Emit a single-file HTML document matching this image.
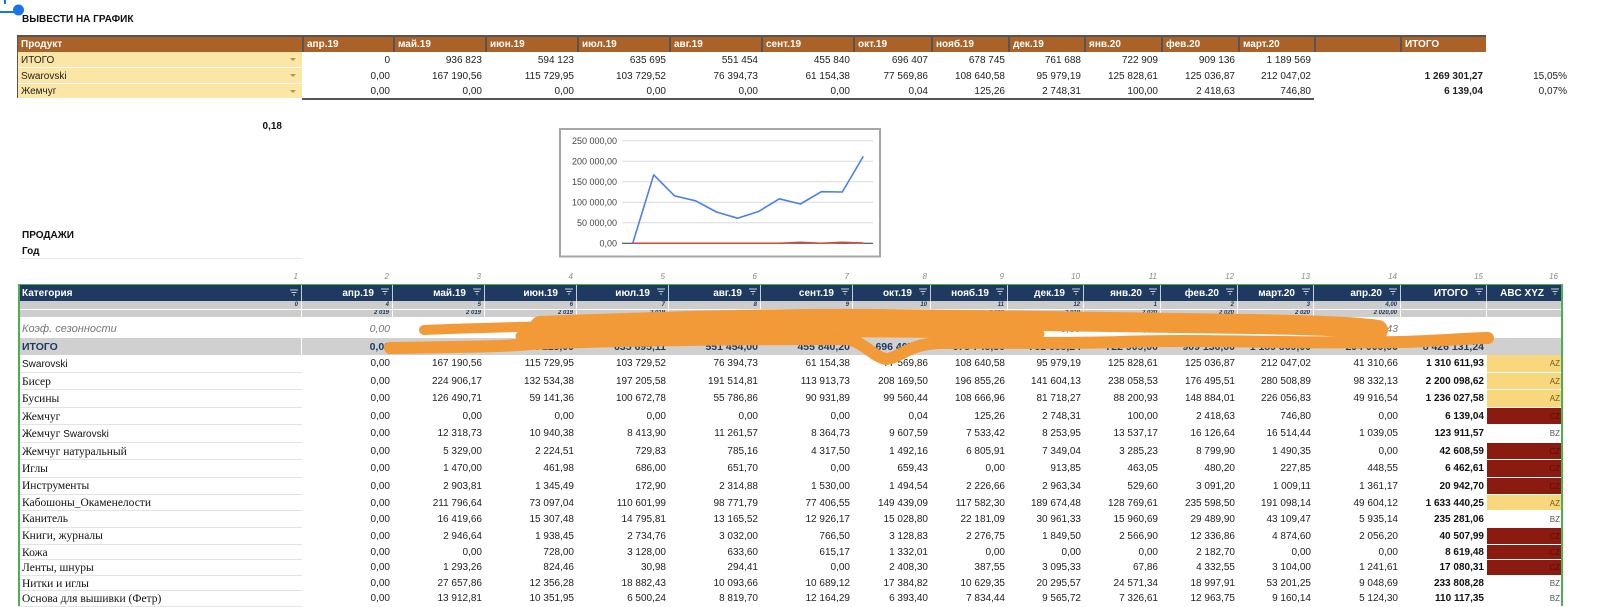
<!DOCTYPE html>
<html><head><meta charset="utf-8">
<style>
*{margin:0;padding:0}
body{width:1600px;height:605px;position:relative;overflow:hidden;background:#fff;font-family:"Liberation Sans",Arial,sans-serif;color:#222;}
.abs{position:absolute;white-space:nowrap}
.tr,.br{position:absolute;display:flex}
.tr{left:18px}
.br{left:19px}
.tr>div,.br>div{flex:none;box-sizing:border-box;overflow:hidden;white-space:nowrap;text-align:right;padding-right:3px;height:100%}
.tr>div:nth-child(1){width:284px}
.br>div:nth-child(1){width:283px}
.tr>div:nth-child(1),.br>div:nth-child(1){text-align:left;padding-left:3px}
.tr>div:nth-child(2),.br>div:nth-child(2){width:91px}
.tr>div:nth-child(3),.br>div:nth-child(3),.tr>div:nth-child(4),.br>div:nth-child(4),.tr>div:nth-child(5),.br>div:nth-child(5),.tr>div:nth-child(6),.br>div:nth-child(6),.tr>div:nth-child(7),.br>div:nth-child(7){width:92px}
.tr>div:nth-child(8),.br>div:nth-child(8){width:78px}
.tr>div:nth-child(9),.br>div:nth-child(9){width:77px}
.tr>div:nth-child(10),.br>div:nth-child(10){width:76px}
.tr>div:nth-child(11),.br>div:nth-child(11){width:77px}
.tr>div:nth-child(12),.br>div:nth-child(12){width:77px}
.tr>div:nth-child(13),.br>div:nth-child(13){width:76px}
.tr>div:nth-child(14){width:86px}
.tr>div:nth-child(15){width:86px}
.tr>div:nth-child(16){width:86px}
.br>div:nth-child(14){width:87px}
.br>div:nth-child(15){width:86px}
.br>div:nth-child(16){width:75px}

/* top table */
.th>div{background:#AA6229;color:#fff;font-weight:bold;font-size:10px;text-align:left;padding-left:3px;border-left:2px solid #555}
.th>div:nth-child(1){border-left:none}
.td>div{font-size:10px}
.td>div:nth-child(1){background:#FBE6A6;position:relative;border-bottom:1px solid #fff}
.td>div:nth-child(15){font-weight:bold}
.td>div:nth-child(16){padding-right:5px}
.arr{position:absolute;right:6px;top:6px;width:0;height:0;border-left:3px solid transparent;border-right:3px solid transparent;border-top:3px solid #b8924a}

/* bottom table */
.bn>div{font-size:8px;font-style:italic;color:#888;padding-right:4px}
.bh>div{background:#1E3A61;color:#fff;font-weight:bold;font-size:10px;border-right:1px solid #c5ccd6}
.bh>div:nth-child(1){display:flex;justify-content:space-between;align-items:center;padding-right:3px;padding-top:1px}
.bh svg{vertical-align:middle;margin-left:7px;margin-top:-2px}
.bs>div{background:#CDCDCD;color:#1E3A61;font-size:6px;font-style:italic;font-weight:bold;border-right:1px solid #fff}
.bs2>div{border-top:1px solid #fff}
.bk>div{font-style:italic;color:#777;font-size:10.5px;padding-top:3px}
.bk>div:nth-child(1){font-size:11px}
.bi>div{background:#D0D0D0;color:#1E3A61;font-weight:bold;font-size:10.5px}
.bi>div:nth-child(1){border-right:1px solid #fff}
.bd>div{font-size:10px}
.bd>div:nth-child(1){font-family:"Liberation Serif",serif;font-size:11.5px;color:#111;border-bottom:1px solid #e3e3e3}
.bd>div:nth-child(15){font-weight:bold;color:#111}
.bd>div:nth-child(16){font-size:8px;border-bottom:1px solid #fff;padding-right:2px}
.s{font-family:"Liberation Sans",Arial,sans-serif;font-size:10px}
.az{background:#F9D77C;color:#6b5a2a}
.cz{background:#8B1A11;color:#5a0e09}
.bz{color:#555}
</style></head>
<body>

<!-- selection handle -->
<svg class="abs" style="left:0;top:0" width="30" height="20">
<line x1="0" y1="12" x2="15" y2="12" stroke="#1A73E8" stroke-width="2"/>
<line x1="5" y1="0" x2="5" y2="4" stroke="#1A73E8" stroke-width="2"/>
<circle cx="18.5" cy="10" r="5.5" fill="#1A73E8"/>
</svg>

<div class="abs" style="left:22px;top:14px;font-size:10px;font-weight:bold;line-height:12px;color:#111">ВЫВЕСТИ НА ГРАФИК</div>

<!-- top table -->
<div class="abs" style="left:17px;top:35px;width:1469px;height:2px;background:#555"></div>
<div class="abs" style="left:17px;top:35px;width:2px;height:63px;background:#555"></div>
<div class="tr th" style="top:36.5px;height:15.5px;line-height:16px">
<div>Продукт</div><div>апр.19</div><div>май.19</div><div>июн.19</div><div>июл.19</div><div>авг.19</div><div>сент.19</div><div>окт.19</div><div>нояб.19</div><div>дек.19</div><div>янв.20</div><div>фев.20</div><div>март.20</div><div></div><div>ИТОГО</div>
</div>
<div class="tr td" style="top:52px;height:16px;line-height:18px">
<div>ИТОГО<span class="arr"></span></div><div>0</div><div>936 823</div><div>594 123</div><div>635 695</div><div>551 454</div><div>455 840</div><div>696 407</div><div>678 745</div><div>761 688</div><div>722 909</div><div>909 136</div><div>1 189 569</div><div></div><div></div><div></div>
</div>
<div class="tr td" style="top:68px;height:15.5px;line-height:17.5px">
<div>Swarovski<span class="arr"></span></div><div>0,00</div><div>167 190,56</div><div>115 729,95</div><div>103 729,52</div><div>76 394,73</div><div>61 154,38</div><div>77 569,86</div><div>108 640,58</div><div>95 979,19</div><div>125 828,61</div><div>125 036,87</div><div>212 047,02</div><div></div><div>1 269 301,27</div><div>15,05%</div>
</div>
<div class="tr td" style="top:83.5px;height:14.5px;line-height:16px">
<div style="border-bottom:none">Жемчуг<span class="arr"></span></div><div>0,00</div><div>0,00</div><div>0,00</div><div>0,00</div><div>0,00</div><div>0,00</div><div>0,04</div><div>125,26</div><div>2 748,31</div><div>100,00</div><div>2 418,63</div><div>746,80</div><div></div><div>6 139,04</div><div>0,07%</div>
</div>
<div class="abs" style="left:302px;top:97.5px;width:1012px;height:2px;background:#555"></div>

<div class="abs" style="left:182px;top:121px;width:100px;text-align:right;font-size:10px;font-weight:bold;line-height:12px;color:#111">0,18</div>

<!-- chart -->
<svg class="abs" style="left:0;top:0" width="1600" height="270">
<rect x="560" y="129" width="320" height="127.5" fill="#fff" stroke="#a6a6a6" stroke-width="2"/>
<g stroke="#dcdcdc" stroke-width="1">
<line x1="622" y1="140.7" x2="873" y2="140.7"/>
<line x1="622" y1="161.3" x2="873" y2="161.3"/>
<line x1="622" y1="181.7" x2="873" y2="181.7"/>
<line x1="622" y1="202.3" x2="873" y2="202.3"/>
<line x1="622" y1="222.7" x2="873" y2="222.7"/>
</g>
<line x1="622" y1="243.3" x2="873" y2="243.3" stroke="#333" stroke-width="1"/>
<g font-family="Liberation Sans, Arial, sans-serif" font-size="9" fill="#444" text-anchor="end">
<text x="617" y="144">250 000,00</text>
<text x="617" y="164.5">200 000,00</text>
<text x="617" y="185">150 000,00</text>
<text x="617" y="205.5">100 000,00</text>
<text x="617" y="226">50 000,00</text>
<text x="617" y="246.5">0,00</text>
</g>
<polyline fill="none" stroke="#DB4437" stroke-width="1.5" points="632.7,243.3 653.7,243.3 674.6,243.3 695.6,243.3 716.5,243.3 737.5,243.3 758.5,243.3 779.4,243.2 800.4,242.2 821.3,243.3 842.3,242.3 863.3,243"/>
<polyline fill="none" stroke="#4A80EC" stroke-width="1.6" stroke-linejoin="round" points="632.7,243.3 653.7,174.8 674.6,195.9 695.6,200.8 716.5,212 737.5,218.2 758.5,211.5 779.4,198.8 800.4,204 821.3,191.7 842.3,192 863.3,156.4"/>
</svg>

<div class="abs" style="left:22px;top:230px;font-size:10px;font-weight:bold;line-height:12px;color:#111">ПРОДАЖИ</div>
<div class="abs" style="left:22px;top:246px;font-size:10px;font-weight:bold;line-height:12px;color:#111">Год</div>
<div class="abs" style="left:20px;top:258px;width:282px;height:1px;background:#e6e6e6"></div>

<!-- bottom table -->
<div class="br bn" style="top:271px;height:12px;line-height:12px">
<div style="text-align:right;padding-right:4px">1</div><div>2</div><div>3</div><div>4</div><div>5</div><div>6</div><div>7</div><div>8</div><div>9</div><div>10</div><div>11</div><div>12</div><div>13</div><div>14</div><div>15</div><div>16</div>
</div>

<div class="br bh" style="top:284.5px;height:16.5px;line-height:17px">
<div><span>Категория</span><svg width="8" height="7"><path d="M0 1h8M1.5 3.5h5M3 6h2" stroke="#c8d0dc" stroke-width="1"/></svg></div>
<div>апр.19<svg width="8" height="7"><path d="M0 1h8M1.5 3.5h5M3 6h2" stroke="#c8d0dc" stroke-width="1"/></svg></div>
<div>май.19<svg width="8" height="7"><path d="M0 1h8M1.5 3.5h5M3 6h2" stroke="#c8d0dc" stroke-width="1"/></svg></div>
<div>июн.19<svg width="8" height="7"><path d="M0 1h8M1.5 3.5h5M3 6h2" stroke="#c8d0dc" stroke-width="1"/></svg></div>
<div>июл.19<svg width="8" height="7"><path d="M0 1h8M1.5 3.5h5M3 6h2" stroke="#c8d0dc" stroke-width="1"/></svg></div>
<div>авг.19<svg width="8" height="7"><path d="M0 1h8M1.5 3.5h5M3 6h2" stroke="#c8d0dc" stroke-width="1"/></svg></div>
<div>сент.19<svg width="8" height="7"><path d="M0 1h8M1.5 3.5h5M3 6h2" stroke="#c8d0dc" stroke-width="1"/></svg></div>
<div>окт.19<svg width="8" height="7"><path d="M0 1h8M1.5 3.5h5M3 6h2" stroke="#c8d0dc" stroke-width="1"/></svg></div>
<div>нояб.19<svg width="8" height="7"><path d="M0 1h8M1.5 3.5h5M3 6h2" stroke="#c8d0dc" stroke-width="1"/></svg></div>
<div>дек.19<svg width="8" height="7"><path d="M0 1h8M1.5 3.5h5M3 6h2" stroke="#c8d0dc" stroke-width="1"/></svg></div>
<div>янв.20<svg width="8" height="7"><path d="M0 1h8M1.5 3.5h5M3 6h2" stroke="#c8d0dc" stroke-width="1"/></svg></div>
<div>фев.20<svg width="8" height="7"><path d="M0 1h8M1.5 3.5h5M3 6h2" stroke="#c8d0dc" stroke-width="1"/></svg></div>
<div>март.20<svg width="8" height="7"><path d="M0 1h8M1.5 3.5h5M3 6h2" stroke="#c8d0dc" stroke-width="1"/></svg></div>
<div>апр.20<svg width="8" height="7"><path d="M0 1h8M1.5 3.5h5M3 6h2" stroke="#c8d0dc" stroke-width="1"/></svg></div>
<div>ИТОГО<svg width="8" height="7"><path d="M0 1h8M1.5 3.5h5M3 6h2" stroke="#c8d0dc" stroke-width="1"/></svg></div>
<div style="border-right:none">ABC XYZ<svg width="8" height="7"><path d="M0 1h8M1.5 3.5h5M3 6h2" stroke="#c8d0dc" stroke-width="1"/></svg></div>
</div>

<div class="br bs" style="top:301px;height:8px;line-height:8px">
<div style="text-align:right;padding-right:3px">0</div><div>4</div><div>5</div><div>6</div><div>7</div><div>8</div><div>9</div><div>10</div><div>11</div><div>12</div><div>1</div><div>2</div><div>3</div><div>4,00</div><div></div><div></div>
</div>
<div class="br bs bs2" style="top:309px;height:8px;line-height:7px">
<div></div><div>2 019</div><div>2 019</div><div>2 019</div><div>2 019</div><div>2 019</div><div>2 019</div><div>2 019</div><div>2 019</div><div>2 019</div><div>2 020</div><div>2 020</div><div>2 020</div><div>2 020,00</div><div></div><div></div>
</div>

<div class="br bk" style="top:317px;height:21px;line-height:19px">
<div>Коэф. сезонности</div><div>0,00</div><div>1,10</div><div>0,05</div><div>0,72</div><div>0,63</div><div>0,53</div><div>0,81</div><div>0,79</div><div>0,89</div><div>1,00</div><div>1,06</div><div>1,38</div><div>0,43</div><div></div><div></div>
</div>
<div class="br bi" style="top:338px;height:17px;line-height:18px">
<div>ИТОГО</div><div>0,00</div><div>936 823,21</div><div>594 123,00</div><div>635 695,11</div><div>551 454,00</div><div>455 840,20</div><div>696 407,10</div><div>678 745,30</div><div>761 688,24</div><div>722 909,00</div><div>909 136,00</div><div>1 189 569,00</div><div>294 000,00</div><div>8 426 131,24</div><div></div>
</div>

<div class="br bd" style="top:355px;height:17.5px;line-height:18px">
<div><span class="s">Swarovski</span></div><div>0,00</div><div>167 190,56</div><div>115 729,95</div><div>103 729,52</div><div>76 394,73</div><div>61 154,38</div><div>77 569,86</div><div>108 640,58</div><div>95 979,19</div><div>125 828,61</div><div>125 036,87</div><div>212 047,02</div><div>41 310,66</div><div>1 310 611,93</div><div class="az">AZ</div>
</div>
<div class="br bd" style="top:372.5px;height:17.5px;line-height:18px">
<div>Бисер</div><div>0,00</div><div>224 906,17</div><div>132 534,38</div><div>197 205,58</div><div>191 514,81</div><div>113 913,73</div><div>208 169,50</div><div>196 855,26</div><div>141 604,13</div><div>238 058,53</div><div>176 495,51</div><div>280 508,89</div><div>98 332,13</div><div>2 200 098,62</div><div class="az">AZ</div>
</div>
<div class="br bd" style="top:390px;height:17.5px;line-height:18px">
<div>Бусины</div><div>0,00</div><div>126 490,71</div><div>59 141,36</div><div>100 672,78</div><div>55 786,86</div><div>90 931,89</div><div>99 560,44</div><div>108 666,96</div><div>81 718,27</div><div>88 200,93</div><div>148 884,01</div><div>226 056,83</div><div>49 916,54</div><div>1 236 027,58</div><div class="az">AZ</div>
</div>
<div class="br bd" style="top:407.5px;height:17.5px;line-height:18px">
<div>Жемчуг</div><div>0,00</div><div>0,00</div><div>0,00</div><div>0,00</div><div>0,00</div><div>0,00</div><div>0,04</div><div>125,26</div><div>2 748,31</div><div>100,00</div><div>2 418,63</div><div>746,80</div><div>0,00</div><div>6 139,04</div><div class="cz">CZ</div>
</div>
<div class="br bd" style="top:425px;height:17.5px;line-height:18px">
<div>Жемчуг <span class="s">Swarovski</span></div><div>0,00</div><div>12 318,73</div><div>10 940,38</div><div>8 413,90</div><div>11 261,57</div><div>8 364,73</div><div>9 607,59</div><div>7 533,42</div><div>8 253,95</div><div>13 537,17</div><div>16 126,64</div><div>16 514,44</div><div>1 039,05</div><div>123 911,57</div><div class="bz">BZ</div>
</div>
<div class="br bd" style="top:442.5px;height:17.5px;line-height:18px">
<div>Жемчуг натуральный</div><div>0,00</div><div>5 329,00</div><div>2 224,51</div><div>729,83</div><div>785,16</div><div>4 317,50</div><div>1 492,16</div><div>6 805,91</div><div>7 349,04</div><div>3 285,23</div><div>8 799,90</div><div>1 490,35</div><div>0,00</div><div>42 608,59</div><div class="cz">CZ</div>
</div>
<div class="br bd" style="top:460px;height:17.5px;line-height:18px">
<div>Иглы</div><div>0,00</div><div>1 470,00</div><div>461,98</div><div>686,00</div><div>651,70</div><div>0,00</div><div>659,43</div><div>0,00</div><div>913,85</div><div>463,05</div><div>480,20</div><div>227,85</div><div>448,55</div><div>6 462,61</div><div class="cz">CZ</div>
</div>
<div class="br bd" style="top:477.5px;height:17px;line-height:17.5px">
<div>Инструменты</div><div>0,00</div><div>2 903,81</div><div>1 345,49</div><div>172,90</div><div>2 314,88</div><div>1 530,00</div><div>1 494,54</div><div>2 226,66</div><div>2 963,34</div><div>529,60</div><div>3 091,20</div><div>1 009,11</div><div>1 361,17</div><div>20 942,70</div><div class="cz">CZ</div>
</div>
<div class="br bd" style="top:494.5px;height:16.5px;line-height:17px">
<div>Кабошоны_Окаменелости</div><div>0,00</div><div>211 796,64</div><div>73 097,04</div><div>110 601,99</div><div>98 771,79</div><div>77 406,55</div><div>149 439,09</div><div>117 582,30</div><div>189 674,48</div><div>128 769,61</div><div>235 598,50</div><div>191 098,14</div><div>49 604,12</div><div>1 633 440,25</div><div class="az">AZ</div>
</div>
<div class="br bd" style="top:511px;height:17px;line-height:17.5px">
<div>Канитель</div><div>0,00</div><div>16 419,66</div><div>15 307,48</div><div>14 795,81</div><div>13 165,52</div><div>12 926,17</div><div>15 028,80</div><div>22 181,09</div><div>30 961,33</div><div>15 960,69</div><div>29 489,90</div><div>43 109,47</div><div>5 935,14</div><div>235 281,06</div><div class="bz">BZ</div>
</div>
<div class="br bd" style="top:528px;height:16.5px;line-height:17px">
<div>Книги, журналы</div><div>0,00</div><div>2 946,64</div><div>1 938,45</div><div>2 734,76</div><div>3 032,00</div><div>766,50</div><div>3 128,83</div><div>2 276,75</div><div>1 849,50</div><div>2 566,90</div><div>12 336,86</div><div>4 874,60</div><div>2 056,20</div><div>40 507,99</div><div class="cz">CZ</div>
</div>
<div class="br bd" style="top:544.5px;height:15.5px;line-height:16px">
<div>Кожа</div><div>0,00</div><div>0,00</div><div>728,00</div><div>3 128,00</div><div>633,60</div><div>615,17</div><div>1 332,01</div><div>0,00</div><div>0,00</div><div>0,00</div><div>2 182,70</div><div>0,00</div><div>0,00</div><div>8 619,48</div><div class="cz">CZ</div>
</div>
<div class="br bd" style="top:560px;height:15.5px;line-height:16px">
<div>Ленты, шнуры</div><div>0,00</div><div>1 293,26</div><div>824,46</div><div>30,98</div><div>294,41</div><div>0,00</div><div>2 408,30</div><div>387,55</div><div>3 095,33</div><div>67,86</div><div>4 332,55</div><div>3 104,00</div><div>1 241,61</div><div>17 080,31</div><div class="cz">CZ</div>
</div>
<div class="br bd" style="top:575.5px;height:15.5px;line-height:16px">
<div>Нитки и иглы</div><div>0,00</div><div>27 657,86</div><div>12 356,28</div><div>18 882,43</div><div>10 093,66</div><div>10 689,12</div><div>17 384,82</div><div>10 629,35</div><div>20 295,57</div><div>24 571,34</div><div>18 997,91</div><div>53 201,25</div><div>9 048,69</div><div>233 808,28</div><div class="bz">BZ</div>
</div>
<div class="br bd" style="top:591px;height:16px;line-height:16.5px">
<div>Основа для вышивки (Фетр)</div><div>0,00</div><div>13 912,81</div><div>10 351,95</div><div>6 500,24</div><div>8 819,70</div><div>12 164,29</div><div>6 393,40</div><div>7 834,44</div><div>9 565,72</div><div>7 326,61</div><div>12 963,75</div><div>9 160,14</div><div>5 124,30</div><div>110 117,35</div><div class="bz">BZ</div>
</div>

<!-- green filter borders -->
<div class="abs" style="left:19px;top:283.5px;width:1544px;height:1px;background:#4CAF50"></div>
<div class="abs" style="left:18px;top:283.5px;width:2px;height:322px;background:#4CAF50"></div>
<div class="abs" style="left:1561px;top:283.5px;width:2px;height:322px;background:#4CAF50"></div>

<!-- orange redaction scribble -->
<svg class="abs" style="left:0;top:0" width="1600" height="605">
<g fill="none" stroke="#F29A38" stroke-linecap="round" stroke-linejoin="round">
<path d="M424,330 C470,328 520,327 560,326" stroke-width="10"/>
<path d="M540,326 C650,322 760,318 880,319 C1000,320 1100,322 1250,324 C1320,325 1360,327 1378,330" stroke-width="20"/>
<path d="M390,348 C450,347 500,347 530,344 C600,341 700,339 845,339 C862,340 872,356 886,359 C900,358 908,344 940,343 C1000,342 1060,344 1120,342 C1200,339 1300,344 1400,342 C1440,341 1470,338 1488,338" stroke-width="12"/>
<path d="M520,336 C650,334 800,332 1040,334" stroke-width="9"/>
</g>
</svg>

</body></html>
